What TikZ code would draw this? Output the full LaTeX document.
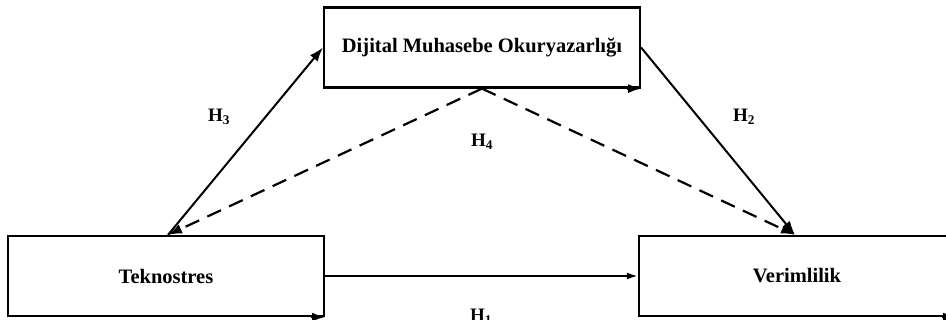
\documentclass[tikz,border=0pt]{standalone}
\usepackage{fontspec}
\setmainfont{Liberation Serif}
\usetikzlibrary{arrows.meta}
\tikzset{
  box/.style={draw, line width=2.2pt, minimum width=316pt, minimum height=80pt, inner sep=0pt, font=\fontsize{20.5}{24}\selectfont\bfseries},
  conn/.style={line width=2pt, -{Latex[length=14pt,width=10pt]}},
  hconn/.style={line width=2pt, -{Latex[length=11pt,width=7pt]}},
  dconn/.style={line width=2.2pt, dash pattern=on 15pt off 9pt, -{Latex[length=14pt,width=10pt]}},
  cornerarr/.style={line width=2pt, -{Latex[length=13pt,width=9pt]}},
  hlab/.style={font=\fontsize{19}{21}\selectfont\bfseries, anchor=base, inner sep=0pt}
}
\begin{document}
\begin{tikzpicture}[x=1pt,y=-1pt]
\useasboundingbox (0,0) rectangle (946,320);
\node[box] (top) at (482,47.5) {Dijital Muhasebe Okuryazarlığı};
\node[box] (tek) at (166,276) {Teknostres};
\node[box] (ver) at (797,276) {Verimlilik};
% corner arrowheads
\draw[cornerarr] ([xshift=-14pt]top.south east) -- (top.south east);
\draw[cornerarr] ([xshift=-14pt]tek.south east) -- (tek.south east);
\draw[cornerarr] ([xshift=-14pt]ver.south east) -- (ver.south east);
% connectors
\draw[hconn] (tek.east) -- (ver.west);
\draw[conn] ([xshift=2pt]tek.north) -- (top.west);
\draw[conn] (top.east) -- ([xshift=-2pt]ver.north);
\draw[dconn] (top.south) -- ([xshift=2pt]tek.north);
\draw[dconn] (top.south) -- ([xshift=-2pt]ver.north);
% labels
\node[hlab] (h3) at (219,122) {H\textsubscript{3}};
\node[hlab] (h4) at (482,147) {H\textsubscript{4}};
\node[hlab] (h2) at (744,122) {H\textsubscript{2}};
\node[hlab] (h1) at (481,322) {H\textsubscript{1}};
\end{tikzpicture}
\end{document}
